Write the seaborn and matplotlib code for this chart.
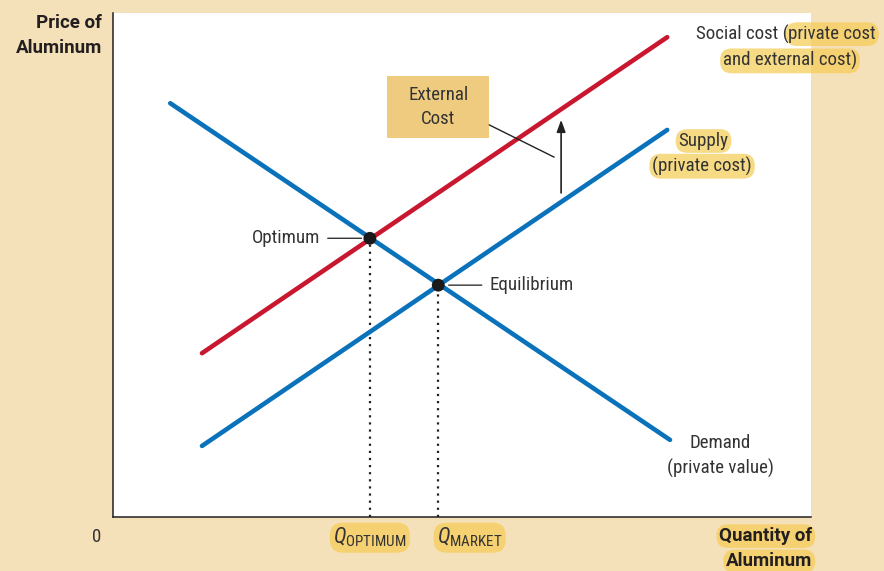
import matplotlib
matplotlib.use("Agg")
import matplotlib.pyplot as plt
import matplotlib.patches as mpatches
from matplotlib import font_manager
import pandas as pd
import seaborn as sns

# curve end points (quantity, price) on a 0-100 scale
demand_q = [8.2, 79.8]
demand_p = [82.1, 15.3]
supply_q = [12.75, 79.4]
supply_p = [14.1, 76.8]
social_q = [12.75, 79.4]
social_p = [32.5, 95.2]

# intersections
point_names = ["Optimum", "Equilibrium"]
point_q = [36.8, 46.6]
point_p = [55.3, 46.0]
q_subs = ["OPTIMUM", "MARKET"]

# external cost arrow
ext_q = 64.2
ext_p = [64.3, 78.8]

BLUE = "#0a72ba"
RED = "#c8172f"
BG = "#f5e1b9"
HL = "#f5cc55"
TXT = "#333333"
DARK = "#231f20"

sns.set_theme(style="white")

# pick a narrow humanist sans if one is around
names = {f.name for f in font_manager.fontManager.ttflist}
fam = "Noto Sans"
for cand in ["Roboto Condensed", "Liberation Sans Narrow", "Open Sans Condensed", "Noto Sans"]:
    if cand in names:
        fam = cand
        break
bold_fam = "Roboto" if "Roboto" in names else fam
plt.rcParams["font.family"] = [fam, "DejaVu Sans"]
plt.rcParams["mathtext.fontset"] = "custom"
plt.rcParams["mathtext.rm"] = fam
plt.rcParams["mathtext.it"] = fam + ":italic"

fig = plt.figure(figsize=(8.84, 5.71), dpi=100, facecolor=BG)
ax = fig.add_axes([113 / 884, 54 / 571, 698 / 884, 504 / 571])
ax.set_facecolor("white")

lines = pd.DataFrame({
    "q": demand_q + supply_q + social_q,
    "p": demand_p + supply_p + social_p,
    "curve": ["Demand"] * 2 + ["Supply"] * 2 + ["Social cost"] * 2,
})
sns.lineplot(data=lines, x="q", y="p", hue="curve", units="curve", estimator=None, sort=False,
             palette={"Demand": BLUE, "Supply": BLUE, "Social cost": RED},
             lw=3.3, legend=False, ax=ax, zorder=2)

ax.vlines(point_q, 0, point_p, colors="#222222", linestyles=(0, (1, 2.2)), lw=1.6, zorder=1)
sns.scatterplot(x=point_q, y=point_p, color="#1a1a1a", s=85, edgecolor="none", zorder=5, ax=ax)

ax.set_xlim(0, 100)
ax.set_ylim(0, 100)
ax.set_xticks([])
ax.set_yticks([])
ax.set_xlabel("")
ax.set_ylabel("")
for s in ["top", "right"]:
    ax.spines[s].set_visible(False)
for s in ["left", "bottom"]:
    ax.spines[s].set_color(DARK)
    ax.spines[s].set_linewidth(1.1)

fs = 13.6
hl = dict(boxstyle="round,pad=0.15,rounding_size=0.6", fc=HL, ec="none", alpha=0.72)

# point labels with leaders
ax.annotate(point_names[0], xy=(point_q[0] - 1.2, point_p[0]), xytext=(29.7, point_p[0]),
            ha="right", va="center", fontsize=fs, color=TXT,
            arrowprops=dict(arrowstyle="-", color=TXT, lw=1, shrinkA=3, shrinkB=0))
ax.annotate(point_names[1], xy=(point_q[1] + 1.5, point_p[1]), xytext=(53.9, point_p[1]),
            ha="left", va="center", fontsize=fs, color=TXT,
            arrowprops=dict(arrowstyle="-", color=TXT, lw=1, shrinkA=3, shrinkB=0))

# external cost box, leader and arrow
ax.add_patch(mpatches.Rectangle((39.3, 75.2), 14.6, 12.3, fc="#efcb80", ec="none", zorder=3))
ax.text(46.6, 81.3, "External\nCost", ha="center", va="center", fontsize=fs, color=TXT,
        linespacing=1.4, zorder=4)
ax.plot([53.9, 63.2], [77.8, 71.4], color="#222222", lw=1, zorder=3)
ax.annotate("", xy=(ext_q, ext_p[1]), xytext=(ext_q, ext_p[0]),
            arrowprops=dict(arrowstyle="-|>,head_length=0.6,head_width=0.22", color="#222222",
                            lw=1.2, shrinkA=0, shrinkB=0))

# curve labels
t = ax.text(109.3, 95.8, "private cost", ha="right", va="center", fontsize=fs, color=TXT,
            bbox=hl, clip_on=False)
ax.annotate("Social cost (", xy=(0, 0.5), xycoords=t, ha="right", va="center",
            fontsize=fs, color=TXT)
ax.text(106.6, 90.5, "and external cost)", ha="right", va="center", fontsize=fs, color=TXT,
        bbox=hl, clip_on=False)
ax.text(84.6, 74.6, "Supply", ha="center", va="center", fontsize=fs, color=TXT, bbox=hl)
ax.text(84.4, 69.6, "(private cost)", ha="center", va="center", fontsize=fs, color=TXT, bbox=hl)
ax.text(87.0, 12.1, "Demand\n(private value)", ha="center", va="center", fontsize=fs,
        color=TXT, linespacing=1.45)

# axis labels
ax.text(-1.6, 95.6, "Price of\nAluminum", ha="right", va="center", multialignment="right",
        fontsize=13.5, fontweight="bold", family=bold_fam, color=DARK, linespacing=1.5,
        clip_on=False)
ax.text(100.2, -3.8, "Quantity of", ha="right", va="center", fontsize=13.5, fontweight="bold",
        family=bold_fam, color=DARK, bbox=hl, clip_on=False)
ax.text(100.2, -8.8, "Aluminum", ha="right", va="center", fontsize=13.5, fontweight="bold",
        family=bold_fam, color=DARK, bbox=hl, clip_on=False)
ax.text(-2.3, -4.0, "0", ha="center", va="center", fontsize=fs, color=TXT, clip_on=False)
for x, sub in zip([36.8, 51.1], q_subs):
    ax.text(x, -4.1, r"$Q_{\rm " + sub + "}$", ha="center", va="center", fontsize=15.5,
            color=TXT, bbox=hl, clip_on=False)

fig.savefig("out.png", dpi=100, facecolor=BG)
